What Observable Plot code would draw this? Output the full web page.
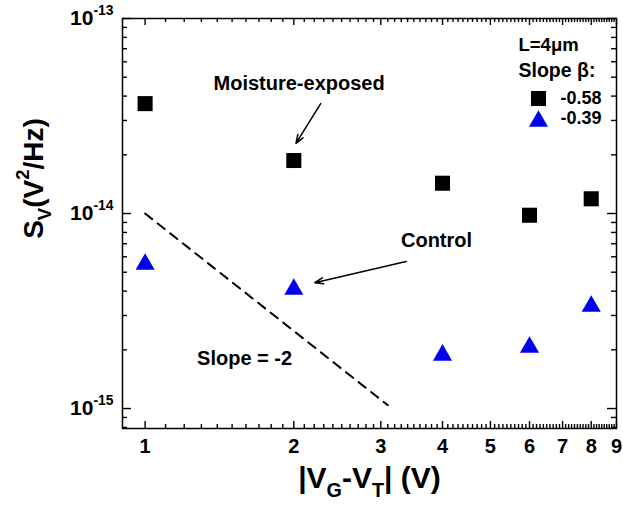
<!DOCTYPE html>
<html>
<head>
<meta charset="utf-8">
<script src="https://cdn.jsdelivr.net/npm/d3@7"></script>
<script src="https://cdn.jsdelivr.net/npm/@observablehq/plot@0.6"></script>
<style>
  body { margin: 0; background: #fff; }
  svg { display: block; }
</style>
</head>
<body>
<div id="chart"></div>
<script>
// Gate overdrive |VG-VT| (V)
const overdrive = [1, 2, 4, 6, 8];
// Voltage noise power spectral density S_V (V^2/Hz)
const moistureExposed = [3.66e-14, 1.87e-14, 1.43e-14, 9.8e-15, 1.19e-14];
const control = [5.67e-15, 4.22e-15, 1.94e-15, 2.13e-15, 3.45e-15];
// Fitted slopes beta for each series
const slopeLabels = ["-0.58", "-0.39"];
// Guide line of slope -2 (end points)
const guideX = [1, 3.1];
const guideY = [1e-14, 1.04e-15];
// Axis ticks
const xTickLabels = [1, 2, 3, 4, 5, 6, 7, 8, 9];
const xMinor = d3.range(1.1, 9, 0.1).map(v => +v.toFixed(1)).filter(v => !xTickLabels.includes(v));
const yMajor = [1e-15, 1e-14, 1e-13];
const yMinor = [8e-16, 9e-16, ...d3.range(2, 10).map(k => k * 1e-15), ...d3.range(2, 10).map(k => k * 1e-14)];

// Annotation anchors in data units
const notes = [
  {text: "Moisture-exposed", x: 2.05, y: 4.64e-14},
  {text: "Control", x: 3.89, y: 7.28e-15},
  {text: "Slope = -2", x: 1.59, y: 1.8e-15}
];
const pointers = [
  {x1: 2.267, y1: 3.66e-14, x2: 2.02, y2: 2.29e-14},
  {x1: 3.375, y1: 5.67e-15, x2: 2.205, y2: 4.42e-15}
];

const moistRows = overdrive.map((x, i) => ({x, y: moistureExposed[i]}));
const controlRows = overdrive.map((x, i) => ({x, y: control[i]}));
const guideRows = guideX.map((x, i) => ({x, y: guideY[i]}));

const W = 623, H = 510;
const mL = 122, mR = 7, mT = 18, mB = 82;
const innerW = W - mL - mR, innerH = H - mT - mB;
const blue = "#0000ee";
const font = "'Liberation Sans', Arial, Helvetica, sans-serif";

const tickOpts = {stroke: "black", strokeWidth: 1.4};
const legendText = {frameAnchor: "top-right", textAnchor: "start", lineAnchor: "middle", fontWeight: "bold"};

const chart = Plot.plot({
  width: W,
  height: H,
  marginLeft: mL,
  marginRight: mR,
  marginTop: mT,
  marginBottom: mB,
  style: {fontFamily: font, background: "white", color: "black"},
  x: {type: "log", domain: [0.9, 9], axis: null},
  y: {type: "log", domain: [7.9e-16, 1e-13], axis: null},
  marks: [
    // inward ticks on all four sides
    Plot.tickX(xTickLabels, {x: d => d, insetTop: innerH - 7, ...tickOpts}),
    Plot.tickX(xMinor, {x: d => d, insetTop: innerH - 4, ...tickOpts}),
    Plot.tickX(xTickLabels, {x: d => d, insetBottom: innerH - 7, ...tickOpts}),
    Plot.tickX(xMinor, {x: d => d, insetBottom: innerH - 4, ...tickOpts}),
    Plot.tickY(yMajor, {y: d => d, insetRight: innerW - 9, ...tickOpts}),
    Plot.tickY(yMinor, {y: d => d, insetRight: innerW - 5, ...tickOpts}),
    Plot.tickY(yMajor, {y: d => d, insetLeft: innerW - 9, ...tickOpts}),
    Plot.tickY(yMinor, {y: d => d, insetLeft: innerW - 5, ...tickOpts}),
    Plot.frame({stroke: "black", strokeWidth: 1.5}),

    // tick labels
    Plot.text(xTickLabels, {x: d => d, text: d => String(d), frameAnchor: "bottom", lineAnchor: "middle", dy: 18, fontSize: 20, fontWeight: "bold"}),
    Plot.text(yMajor, {y: d => d, text: d => `10^{${Math.round(Math.log10(d))}}`, frameAnchor: "left", textAnchor: "end", lineAnchor: "middle", dx: -9, fontSize: 21, fontWeight: "bold"}),

    // axis titles
    Plot.text(["|V_{G}-V_{T}| (V)"], {text: d => d, frameAnchor: "bottom", textAnchor: "middle", lineAnchor: "middle", dy: 50, fontSize: 30, fontWeight: "bold"}),
    Plot.text(["S_{V}(V^{2}/Hz)"], {text: d => d, frameAnchor: "left", textAnchor: "middle", lineAnchor: "middle", dx: -88, dy: -45, rotate: -90, fontSize: 28, fontWeight: "bold"}),

    // slope -2 guide
    Plot.line(guideRows, {x: "x", y: "y", stroke: "black", strokeWidth: 2, strokeDasharray: "9,7"}),

    // data
    Plot.dot(moistRows, {x: "x", y: "y", symbol: "square", r: 8.5, fill: "black", stroke: "none"}),
    Plot.dot(controlRows, {x: "x", y: "y", symbol: "triangle", r: 7.1, dy: 2.7, fill: blue, stroke: "none"}),

    // annotations
    Plot.text(notes, {x: "x", y: "y", text: "text", fontSize: 20, fontWeight: "bold"}),
    Plot.arrow(pointers, {x1: "x1", y1: "y1", x2: "x2", y2: "y2", stroke: "black", strokeWidth: 1.5, headLength: 9, headAngle: 40}),

    // legend
    Plot.text(["L=4\u03bcm"], {text: d => d, dx: -98, dy: 27, fontSize: 18.5, ...legendText}),
    Plot.text(["Slope \u03b2:"], {text: d => d, dx: -98, dy: 52, fontSize: 19.5, ...legendText}),
    Plot.dot([0], {frameAnchor: "top-right", dx: -78, dy: 80, symbol: "square", r: 8.5, fill: "black", stroke: "none"}),
    Plot.dot([0], {frameAnchor: "top-right", dx: -78, dy: 102.7, symbol: "triangle", r: 7.1, fill: blue, stroke: "none"}),
    Plot.text([slopeLabels[0]], {text: d => d, dx: -56, dy: 80, fontSize: 18, ...legendText}),
    Plot.text([slopeLabels[1]], {text: d => d, dx: -56, dy: 100, fontSize: 18, ...legendText})
  ]
});

document.getElementById("chart").appendChild(chart);

// Turn _{..} and ^{..} markup into sub/superscript tspans
function applyScripts(svg) {
  svg.querySelectorAll("text").forEach(node => {
    const s = node.textContent;
    if (!/[_^]\{/.test(s)) return;
    const fs = parseFloat(getComputedStyle(node).fontSize) || 16;
    while (node.firstChild) node.removeChild(node.firstChild);
    const add = (txt, kind) => {
      const ts = document.createElementNS("http://www.w3.org/2000/svg", "tspan");
      ts.textContent = txt;
      if (kind) {
        ts.setAttribute("font-size", (fs * 0.66).toFixed(1));
        ts.style.baselineShift = (kind === "^" ? fs * 0.5 : -fs * 0.3).toFixed(1) + "px";
      }
      node.appendChild(ts);
    };
    const re = /([_^])\{([^}]*)\}/g;
    let last = 0, m;
    while ((m = re.exec(s))) {
      if (m.index > last) add(s.slice(last, m.index));
      add(m[2], m[1]);
      last = re.lastIndex;
    }
    if (last < s.length) add(s.slice(last));
  });
}
applyScripts(chart);
</script>
</body>
</html>
